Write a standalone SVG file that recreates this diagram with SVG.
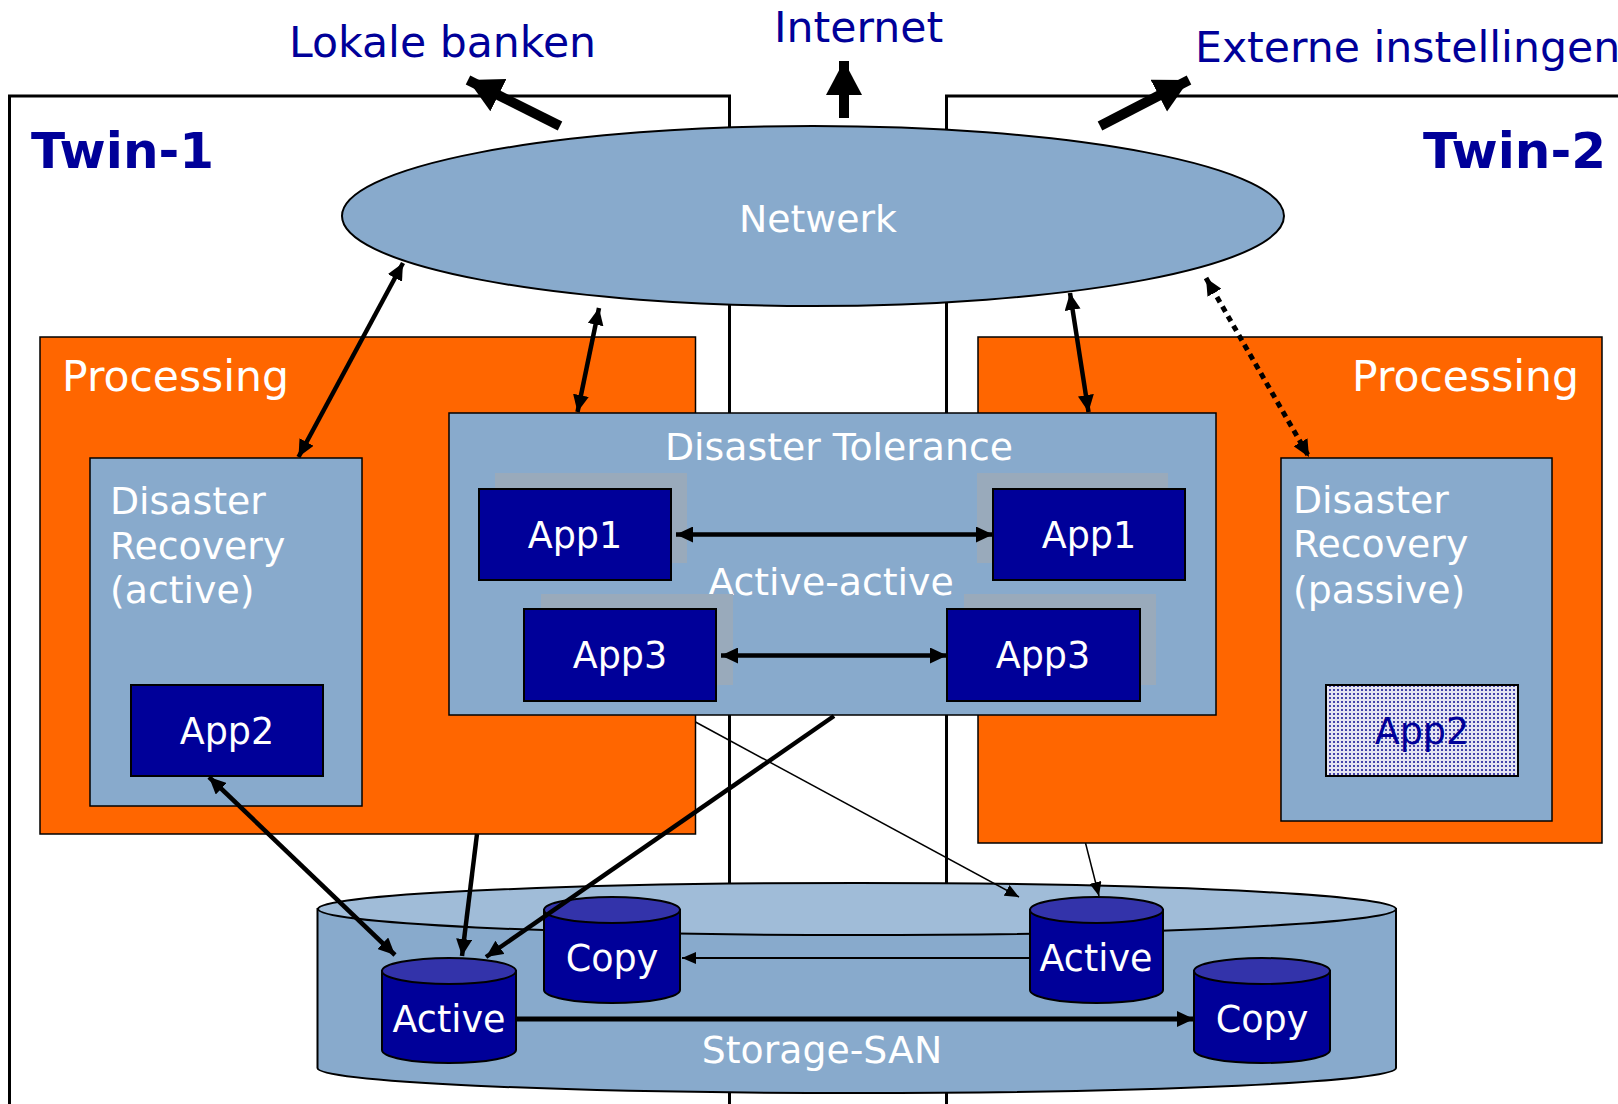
<svg xmlns="http://www.w3.org/2000/svg" width="1618" height="1104" viewBox="0 0 1618 1104">
<style>
text{font-family:"DejaVu Sans","Verdana",sans-serif;}
.lbl{fill:#000099;font-size:42.6px;}
.twin{fill:#000099;font-size:50px;font-weight:bold;}
.w36{fill:#ffffff;font-size:36.5px;}
.w37{fill:#ffffff;font-size:37.8px;}
.w42{fill:#ffffff;font-size:42.5px;}
.twinbox{fill:none;stroke:#000;stroke-width:3;}
.proc{fill:#FF6600;stroke:#000;stroke-width:1.5;}
.blue{fill:#88AACC;stroke:#000;stroke-width:1.5;}
.app{fill:#000099;stroke:#000;stroke-width:2;}
.shadow{fill:#99AABB;}
.dbbody{fill:#000099;stroke:#000;stroke-width:2;}
.dbtop{fill:#3333AA;stroke:#000;stroke-width:2;}
.thick{stroke:#000;stroke-width:4.5;fill:none;}
.thin{stroke:#000;stroke-width:1.5;fill:none;}
.big{stroke:#000;stroke-width:10;fill:none;}
</style>
<defs>
<marker id="ah" markerUnits="userSpaceOnUse" markerWidth="18" markerHeight="16" refX="17" refY="8" orient="auto-start-reverse"><path d="M0,0 L17,8 L0,16 z" fill="#000"/></marker>
<marker id="ahs" markerUnits="userSpaceOnUse" markerWidth="15" markerHeight="12" refX="14" refY="6" orient="auto-start-reverse"><path d="M0,0 L14,6 L0,12 z" fill="#000"/></marker>
<marker id="ahb" markerUnits="userSpaceOnUse" markerWidth="36" markerHeight="38" refX="34" refY="18" orient="auto"><path d="M0,0 L34,18 L0,36 z" fill="#000"/></marker>
<pattern id="dots" width="4" height="4" patternUnits="userSpaceOnUse"><rect width="4" height="4" fill="#E4E4F2"/><rect x="1" y="1" width="2" height="2" fill="#4444AA"/></pattern>
</defs>
<rect width="1618" height="1104" fill="#ffffff"/>

<g id="twin1"><rect class="twinbox" x="9.5" y="96" width="720" height="1020"/><text class="twin" x="31" y="168">Twin-1</text></g>
<g id="twin2"><rect class="twinbox" x="946.5" y="96" width="700" height="1020"/><text class="twin" x="1606" y="168" text-anchor="end">Twin-2</text></g>

<g id="lokale"><text class="lbl" x="289" y="57">Lokale banken</text></g>
<g id="internet"><text class="lbl" x="774" y="42">Internet</text></g>
<g id="externe"><text class="lbl" x="1195" y="62">Externe instellingen</text></g>

<g id="netwerk"><ellipse cx="813" cy="216" rx="471" ry="90" fill="#88AACC" stroke="#000" stroke-width="2"/><text class="w37" x="818" y="232" text-anchor="middle">Netwerk</text></g>

<g id="processing1"><rect class="proc" x="40" y="337" width="655.5" height="497"/><text class="w42" x="62" y="391">Processing</text></g>
<g id="processing2"><rect class="proc" x="978" y="337" width="624" height="506"/><text class="w42" x="1579" y="391" text-anchor="end">Processing</text></g>

<g id="dr-active"><rect class="blue" x="90" y="458" width="272" height="348"/>
<text class="w37" x="110" y="514">Disaster</text><text class="w37" x="110" y="559">Recovery</text><text class="w37" x="110" y="603">(active)</text></g>
<g id="app2-active"><rect class="app" x="131" y="685" width="192" height="91"/><text class="w36" x="227" y="744" text-anchor="middle">App2</text></g>

<g id="dr-passive"><rect class="blue" x="1281" y="458" width="271" height="363"/>
<text class="w37" x="1293" y="513">Disaster</text><text class="w37" x="1293" y="557">Recovery</text><text class="w37" x="1293" y="603">(passive)</text></g>
<g id="app2-passive"><rect x="1326" y="685" width="192" height="91" fill="url(#dots)" stroke="#000" stroke-width="2"/><text x="1422" y="744" text-anchor="middle" font-size="36.5" fill="#000099">App2</text></g>

<g id="dt"><rect class="blue" x="449" y="413" width="767" height="302"/>
<text class="w37" x="839" y="460" text-anchor="middle">Disaster Tolerance</text>
<text class="w37" x="831" y="595" text-anchor="middle">Active-active</text></g>
<g id="app1-left"><rect class="shadow" x="495" y="473" width="192" height="90"/><rect class="app" x="479" y="489" width="192" height="91"/><text class="w36" x="575" y="548" text-anchor="middle">App1</text></g>
<g id="app1-right"><rect class="shadow" x="977" y="473" width="191" height="90"/><rect class="app" x="993" y="489" width="192" height="91"/><text class="w36" x="1089" y="548" text-anchor="middle">App1</text></g>
<g id="app3-left"><rect class="shadow" x="541" y="594" width="192" height="91"/><rect class="app" x="524" y="609" width="192" height="92"/><text class="w36" x="620" y="668" text-anchor="middle">App3</text></g>
<g id="app3-right"><rect class="shadow" x="964" y="594" width="192" height="91"/><rect class="app" x="947" y="609" width="193" height="92"/><text class="w36" x="1043" y="668" text-anchor="middle">App3</text></g>

<g id="storage">
<path d="M317.5,909 L317.5,1068 A539,25 0 0 0 1396,1068 L1396,909 z" fill="#88AACC" stroke="#000" stroke-width="2"/>
<ellipse cx="857" cy="909" rx="539" ry="26" fill="#A0BCD8" stroke="#000" stroke-width="2"/>
<text class="w37" x="822" y="1063" text-anchor="middle">Storage-SAN</text>
</g>

<g id="db-copy-left"><path class="dbbody" d="M544,910 L544,990 A68,13 0 0 0 680,990 L680,910 z"/><ellipse class="dbtop" cx="612" cy="910" rx="68" ry="13"/><text class="w36" x="612" y="971" text-anchor="middle">Copy</text></g>
<g id="db-active-right"><path class="dbbody" d="M1030,910 L1030,990 A66.5,13 0 0 0 1163,990 L1163,910 z"/><ellipse class="dbtop" cx="1096.5" cy="910" rx="66.5" ry="13"/><text class="w36" x="1096" y="971" text-anchor="middle">Active</text></g>
<g id="db-active-left"><path class="dbbody" d="M382,971 L382,1050 A67,13 0 0 0 516,1050 L516,971 z"/><ellipse class="dbtop" cx="449" cy="971" rx="67" ry="13"/><text class="w36" x="449" y="1032" text-anchor="middle">Active</text></g>
<g id="db-copy-right"><path class="dbbody" d="M1194,971 L1194,1050 A68,13 0 0 0 1330,1050 L1330,971 z"/><ellipse class="dbtop" cx="1262" cy="971" rx="68" ry="13"/><text class="w36" x="1262" y="1032" text-anchor="middle">Copy</text></g>

<g id="connectors">
<line class="big" x1="560" y1="126" x2="468" y2="80" marker-end="url(#ahb)"/>
<line class="big" x1="844" y1="118" x2="844" y2="61" marker-end="url(#ahb)"/>
<line class="big" x1="1100" y1="126" x2="1189" y2="80" marker-end="url(#ahb)"/>
<line class="thick" x1="403" y1="263" x2="298.5" y2="457" marker-start="url(#ah)" marker-end="url(#ah)"/>
<line class="thick" x1="599" y1="308" x2="577.5" y2="412" marker-start="url(#ah)" marker-end="url(#ah)"/>
<line class="thick" x1="1070" y1="293" x2="1088.5" y2="412" marker-start="url(#ah)" marker-end="url(#ah)"/>
<line x1="1206" y1="278" x2="1309" y2="457" stroke="#000" stroke-width="5" stroke-dasharray="6 5" marker-start="url(#ah)" marker-end="url(#ah)"/>
<line class="thick" x1="676" y1="534.5" x2="993" y2="534.5" marker-start="url(#ah)" marker-end="url(#ah)"/>
<line class="thick" x1="721" y1="655.5" x2="947" y2="655.5" marker-start="url(#ah)" marker-end="url(#ah)"/>
<line class="thick" x1="209" y1="777" x2="395" y2="955" marker-start="url(#ah)" marker-end="url(#ah)"/>
<line class="thick" x1="477" y1="834" x2="462" y2="956" marker-end="url(#ah)"/>
<line class="thick" x1="834" y1="716" x2="486" y2="957" marker-end="url(#ah)"/>
<line class="thin" x1="695.5" y1="722" x2="1019" y2="897" marker-end="url(#ahs)"/>
<line class="thin" x1="1085.5" y1="843" x2="1099" y2="896" marker-end="url(#ahs)"/>
<line x1="1030" y1="958" x2="682" y2="958" stroke="#000" stroke-width="2" marker-end="url(#ahs)"/>
<line x1="516" y1="1019" x2="1194" y2="1019" stroke="#000" stroke-width="5" marker-end="url(#ah)"/>
</g>
</svg>
